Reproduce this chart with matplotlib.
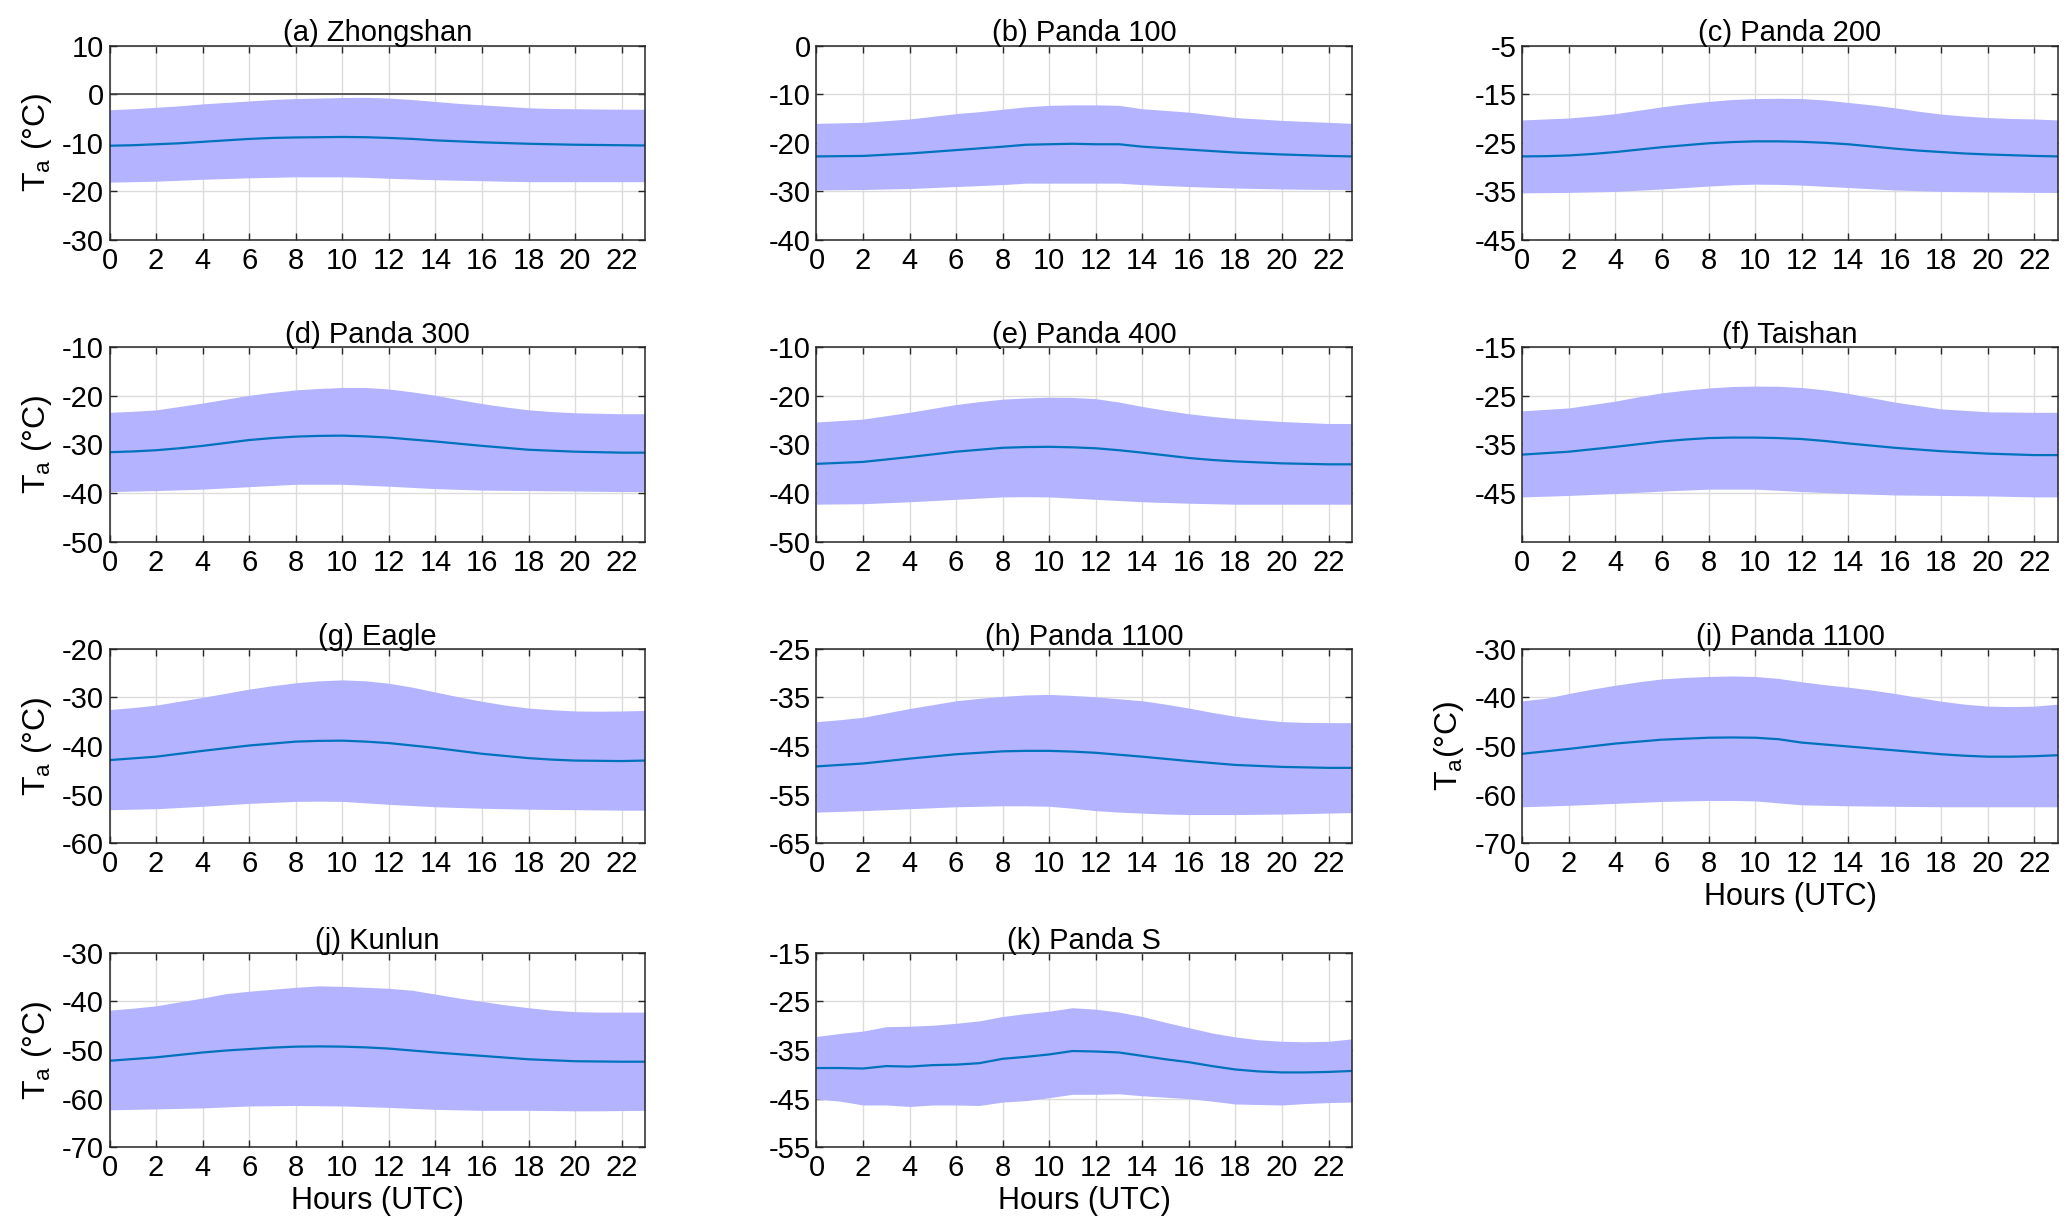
import numpy as np
import matplotlib.pyplot as plt

plt.rcParams['font.family'] = ['Liberation Sans Narrow', 'Liberation Sans', 'DejaVu Sans']
plt.rcParams['mathtext.default'] = 'regular'
plt.rcParams['axes.unicode_minus'] = False

hours = np.arange(24)

# (a) Zhongshan
zs_mean = [-10.6,-10.5,-10.3,-10.1,-9.8,-9.5,-9.2,-9.0,-8.9,-8.85,-8.8,-8.85,-9.0,-9.2,-9.5,-9.7,-9.9,-10.05,-10.2,-10.3,-10.4,-10.45,-10.5,-10.55]
zs_hi = [-3.2,-3.0,-2.7,-2.4,-2.0,-1.7,-1.4,-1.1,-0.9,-0.8,-0.7,-0.65,-0.8,-1.1,-1.5,-1.9,-2.2,-2.5,-2.8,-2.95,-3.0,-3.05,-3.1,-3.1]
zs_lo = [-18.1,-18.0,-17.9,-17.7,-17.5,-17.35,-17.2,-17.1,-17.0,-17.0,-17.0,-17.1,-17.3,-17.45,-17.6,-17.7,-17.8,-17.9,-18.0,-18.0,-18.0,-18.0,-18.0,-18.0]
# (b) Panda 100
p100_mean = [-22.8,-22.75,-22.7,-22.45,-22.2,-21.85,-21.5,-21.15,-20.8,-20.4,-20.3,-20.2,-20.3,-20.3,-20.8,-21.1,-21.4,-21.7,-22.0,-22.2,-22.4,-22.55,-22.7,-22.8]
p100_hi = [-16.0,-15.9,-15.8,-15.45,-15.1,-14.55,-14.0,-13.6,-13.1,-12.6,-12.3,-12.2,-12.2,-12.3,-13.0,-13.35,-13.7,-14.25,-14.8,-15.1,-15.4,-15.6,-15.8,-16.0]
p100_lo = [-29.7,-29.65,-29.6,-29.5,-29.4,-29.2,-29.0,-28.8,-28.6,-28.3,-28.3,-28.3,-28.3,-28.3,-28.6,-28.8,-29.0,-29.15,-29.3,-29.4,-29.5,-29.55,-29.6,-29.6]
# (c) Panda 200
p200_mean = [-27.8,-27.75,-27.6,-27.3,-26.9,-26.4,-25.9,-25.5,-25.1,-24.85,-24.7,-24.7,-24.8,-25.0,-25.3,-25.75,-26.2,-26.6,-26.9,-27.2,-27.4,-27.55,-27.7,-27.8]
p200_hi = [-20.3,-20.1,-19.9,-19.5,-19.0,-18.3,-17.6,-17.0,-16.5,-16.1,-15.9,-15.85,-15.9,-16.2,-16.7,-17.2,-17.8,-18.5,-19.1,-19.5,-19.8,-20.0,-20.1,-20.3]
p200_lo = [-35.3,-35.25,-35.2,-35.1,-35.0,-34.75,-34.5,-34.2,-33.9,-33.65,-33.5,-33.55,-33.7,-33.95,-34.2,-34.45,-34.7,-34.85,-35.0,-35.05,-35.1,-35.15,-35.2,-35.2]
# (d) Panda 300
p300_mean = [-31.6,-31.45,-31.2,-30.8,-30.3,-29.7,-29.1,-28.7,-28.4,-28.25,-28.2,-28.35,-28.6,-29.0,-29.4,-29.85,-30.3,-30.7,-31.1,-31.3,-31.5,-31.6,-31.7,-31.7]
p300_hi = [-23.4,-23.2,-22.9,-22.2,-21.5,-20.7,-19.9,-19.3,-18.8,-18.5,-18.3,-18.3,-18.6,-19.2,-19.9,-20.8,-21.6,-22.3,-22.9,-23.25,-23.5,-23.6,-23.7,-23.7]
p300_lo = [-39.7,-39.6,-39.5,-39.35,-39.2,-38.95,-38.7,-38.45,-38.2,-38.2,-38.2,-38.4,-38.6,-38.85,-39.1,-39.25,-39.4,-39.45,-39.5,-39.55,-39.6,-39.65,-39.7,-39.7]
# (e) Panda 400
p400_mean = [-34.0,-33.8,-33.6,-33.1,-32.6,-32.05,-31.5,-31.1,-30.7,-30.55,-30.5,-30.6,-30.8,-31.2,-31.7,-32.25,-32.8,-33.2,-33.5,-33.7,-33.9,-34.0,-34.1,-34.1]
p400_hi = [-25.4,-25.1,-24.8,-24.1,-23.4,-22.6,-21.8,-21.2,-20.7,-20.45,-20.3,-20.35,-20.6,-21.3,-22.2,-23.0,-23.7,-24.25,-24.7,-25.0,-25.3,-25.5,-25.7,-25.7]
p400_lo = [-42.3,-42.25,-42.2,-42.0,-41.8,-41.55,-41.3,-41.05,-40.8,-40.75,-40.8,-41.05,-41.3,-41.55,-41.8,-41.95,-42.1,-42.2,-42.3,-42.3,-42.3,-42.3,-42.3,-42.3]
# (f) Taishan
ts_mean = [-37.1,-36.8,-36.5,-36.0,-35.5,-34.95,-34.4,-34.0,-33.7,-33.6,-33.6,-33.7,-33.9,-34.3,-34.8,-35.25,-35.7,-36.05,-36.4,-36.65,-36.9,-37.05,-37.2,-37.2]
ts_hi = [-28.1,-27.8,-27.5,-26.8,-26.1,-25.2,-24.4,-23.85,-23.4,-23.1,-23.0,-23.05,-23.3,-23.8,-24.5,-25.4,-26.3,-27.0,-27.7,-28.0,-28.3,-28.35,-28.4,-28.4]
ts_lo = [-45.8,-45.65,-45.5,-45.3,-45.1,-44.85,-44.6,-44.4,-44.2,-44.2,-44.2,-44.45,-44.7,-44.9,-45.1,-45.25,-45.4,-45.45,-45.5,-45.55,-45.6,-45.7,-45.8,-45.8]
# (g) Eagle
eg_mean = [-42.9,-42.55,-42.2,-41.6,-41.0,-40.45,-39.9,-39.5,-39.1,-38.95,-38.9,-39.1,-39.4,-39.9,-40.4,-41.0,-41.6,-42.05,-42.5,-42.8,-43.0,-43.05,-43.1,-43.0]
eg_hi = [-32.5,-32.1,-31.6,-30.8,-30.0,-29.15,-28.3,-27.6,-27.0,-26.6,-26.4,-26.6,-27.1,-27.9,-28.9,-29.9,-30.8,-31.6,-32.2,-32.55,-32.8,-32.85,-32.8,-32.7]
eg_lo = [-53.1,-53.0,-52.9,-52.65,-52.4,-52.1,-51.8,-51.6,-51.4,-51.35,-51.4,-51.7,-52.0,-52.25,-52.5,-52.65,-52.8,-52.9,-53.0,-53.05,-53.1,-53.15,-53.2,-53.2]
# (h) Panda 1100
p1100h_mean = [-49.2,-48.9,-48.6,-48.1,-47.6,-47.15,-46.7,-46.4,-46.1,-46.0,-46.0,-46.15,-46.4,-46.8,-47.2,-47.65,-48.1,-48.5,-48.9,-49.1,-49.3,-49.4,-49.5,-49.5]
p1100h_hi = [-40.0,-39.6,-39.1,-38.2,-37.3,-36.5,-35.7,-35.2,-34.8,-34.5,-34.4,-34.6,-34.9,-35.3,-35.7,-36.4,-37.2,-38.1,-38.9,-39.5,-40.0,-40.15,-40.2,-40.2]
p1100h_lo = [-58.6,-58.45,-58.3,-58.1,-57.9,-57.7,-57.5,-57.4,-57.3,-57.3,-57.4,-57.8,-58.3,-58.6,-58.8,-59.0,-59.1,-59.1,-59.1,-59.05,-59.0,-58.9,-58.8,-58.7]
# (i) Panda 1100
p1100i_mean = [-51.6,-51.1,-50.6,-50.05,-49.5,-49.1,-48.7,-48.5,-48.3,-48.25,-48.3,-48.6,-49.3,-49.7,-50.1,-50.5,-50.9,-51.3,-51.7,-52.0,-52.2,-52.2,-52.1,-51.9]
p1100i_hi = [-40.7,-40.2,-39.2,-38.3,-37.5,-36.8,-36.2,-35.9,-35.7,-35.6,-35.7,-36.1,-36.8,-37.4,-37.9,-38.5,-39.2,-40.0,-40.8,-41.4,-41.8,-41.9,-41.8,-41.4]
p1100i_lo = [-62.5,-62.35,-62.2,-62.0,-61.8,-61.6,-61.4,-61.3,-61.2,-61.2,-61.3,-61.7,-62.1,-62.2,-62.3,-62.35,-62.4,-62.45,-62.5,-62.5,-62.5,-62.5,-62.5,-62.5]
# (j) Kunlun
kl_mean = [-52.2,-51.85,-51.5,-51.0,-50.5,-50.1,-49.8,-49.5,-49.3,-49.25,-49.3,-49.45,-49.7,-50.1,-50.5,-50.85,-51.2,-51.55,-51.9,-52.1,-52.3,-52.35,-52.4,-52.4]
kl_hi = [-41.8,-41.4,-40.9,-40.1,-39.3,-38.4,-37.9,-37.5,-37.1,-36.8,-36.9,-37.1,-37.3,-37.7,-38.5,-39.3,-40.0,-40.7,-41.3,-41.8,-42.1,-42.2,-42.2,-42.2]
kl_lo = [-62.3,-62.2,-62.1,-62.0,-61.9,-61.7,-61.5,-61.45,-61.4,-61.45,-61.5,-61.65,-61.8,-62.0,-62.2,-62.3,-62.4,-62.4,-62.4,-62.45,-62.5,-62.5,-62.45,-62.4]
# (k) Panda S
ps_mean = [-38.7,-38.7,-38.8,-38.3,-38.4,-38.1,-38.0,-37.7,-36.8,-36.4,-35.9,-35.2,-35.3,-35.5,-36.2,-36.9,-37.5,-38.3,-39.0,-39.4,-39.6,-39.6,-39.5,-39.3]
ps_hi = [-32.2,-31.6,-31.1,-30.2,-30.1,-29.9,-29.5,-29.0,-28.1,-27.5,-27.0,-26.3,-26.6,-27.2,-28.1,-29.3,-30.4,-31.5,-32.3,-32.9,-33.2,-33.3,-33.2,-32.7]
ps_lo = [-45.1,-45.5,-46.3,-46.3,-46.6,-46.3,-46.3,-46.4,-45.7,-45.4,-44.8,-44.1,-44.1,-44.0,-44.4,-44.7,-45.0,-45.5,-46.1,-46.2,-46.3,-46.0,-45.8,-45.7]

titles = ['(a) Zhongshan', '(b) Panda 100', '(c) Panda 200', '(d) Panda 300',
          '(e) Panda 400', '(f) Taishan', '(g) Eagle', '(h) Panda 1100',
          '(i) Panda 1100', '(j) Kunlun', '(k) Panda S']
means = [zs_mean, p100_mean, p200_mean, p300_mean, p400_mean, ts_mean,
         eg_mean, p1100h_mean, p1100i_mean, kl_mean, ps_mean]
his = [zs_hi, p100_hi, p200_hi, p300_hi, p400_hi, ts_hi,
       eg_hi, p1100h_hi, p1100i_hi, kl_hi, ps_hi]
los = [zs_lo, p100_lo, p200_lo, p300_lo, p400_lo, ts_lo,
       eg_lo, p1100h_lo, p1100i_lo, kl_lo, ps_lo]
ylims = [(-30, 10), (-40, 0), (-45, -5), (-50, -10), (-50, -10), (-55, -15),
         (-60, -20), (-65, -25), (-70, -30), (-70, -30), (-55, -15)]

fig = plt.figure(figsize=(20.67, 12.31), dpi=100)

lefts = [0.053, 0.395, 0.7365]
bottoms = [0.805, 0.56, 0.315, 0.068]
w, h = 0.259, 0.158

for i in range(11):
    r, c = divmod(i, 3)
    ax = fig.add_axes([lefts[c], bottoms[r], w, h])
    ax.set_axisbelow(True)
    ax.fill_between(hours, los[i], his[i], color='#b3b3ff', lw=0, zorder=1)
    ax.plot(hours, means[i], color='#0072bd', lw=1.6, zorder=2)
    if i == 0:
        ax.axhline(0, color='#404040', lw=1.2, zorder=2)
    lo, hi = ylims[i]
    ax.set_ylim(lo, hi)
    ax.set_xlim(0, 23)
    ax.set_xticks(np.arange(0, 23, 2))
    if i == 5:
        ax.set_yticks([-45, -35, -25, -15])
    else:
        ax.set_yticks(np.arange(lo, hi + 1, 10))
    ax.grid(True, color='#dcdcdc', lw=1)
    ax.tick_params(direction='in', top=True, right=True, length=5,
                   width=1, labelsize=21, colors='#262626', labelcolor='black')
    ax.tick_params(axis='x', pad=5)
    ax.tick_params(axis='y', pad=4)
    for sp in ax.spines.values():
        sp.set_color('#262626')
        sp.set_linewidth(1.1)
    ax.set_title(titles[i], fontsize=21, pad=3)
    if c == 0:
        ax.set_ylabel('T$_a$ (°C)', fontsize=23, labelpad=6)
    if i == 8:
        ax.set_ylabel('T$_a$(°C)', fontsize=23, labelpad=6)
    if i >= 8:
        ax.set_xlabel('Hours (UTC)', fontsize=22, labelpad=3)

fig.savefig('out.png', dpi=100, facecolor='white')
